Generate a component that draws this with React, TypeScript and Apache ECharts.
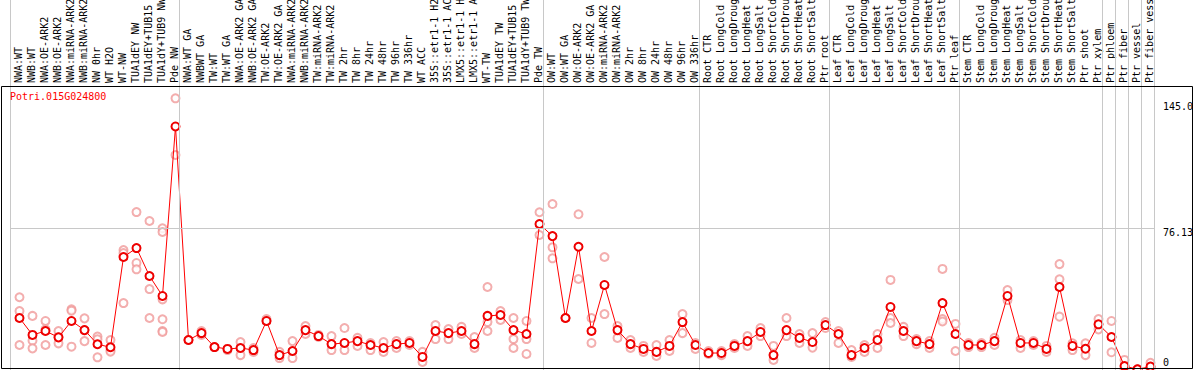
import React, { useEffect, useRef } from "react";
import * as echarts from "echarts";

const geneName = "Potri.015G024800";

const categories = [
  "NWA:WT", "NWB:WT", "NWA:OE-ARK2", "NWB:OE-ARK2", "NWA:miRNA-ARK2", "NWB:miRNA-ARK2",
  "NW 0hr", "WT H2O", "WT-NW", "TUA1dEY NW", "TUA1dEY+TUB15", "TUA1dY+TUB9 NW", "Pde NW",
  "NWA:WT GA", "NWBWT GA", "TW:WT", "TW:WT GA", "NWA:OE-ARK2 GA", "NWB:OE-ARK2 GA",
  "TW:OE-ARK2", "TW:OE-ARK2 GA", "NWA:miRNA-ARK2", "NWB:miRNA-ARK2", "TW:miRNA-ARK2",
  "TW:miRNA-ARK2", "TW 2hr", "TW 8hr", "TW 24hr", "TW 48hr", "TW 96hr", "TW 336hr",
  "WT ACC", "35S::etr1-1 H2", "35S::etr1-1 AC", "LMX5::etr1-1 H", "LMX5::etr1-1 A",
  "WT-TW", "TUA1dEY TW", "TUA1dEY+TUB15", "TUA1dY+TUB9 TW", "Pde TW",
  "OW:WT", "OW:WT GA", "OW:OE-ARK2", "OW:OE-ARK2 GA", "OW:miRNA-ARK2", "OW:miRNA-ARK2",
  "OW 2hr", "OW 8hr", "OW 24hr", "OW 48hr", "OW 96hr", "OW 336hr",
  "Root CTR", "Root LongCold", "Root LongDroug", "Root LongHeat", "Root LongSalt",
  "Root ShortCold", "Root ShortDrou", "Root ShortHeat", "Root ShortSalt", "Ptr root",
  "Leaf CTR", "Leaf LongCold", "Leaf LongDroug", "Leaf LongHeat", "Leaf LongSalt",
  "Leaf ShortCold", "Leaf ShortDrou", "Leaf ShortHeat", "Leaf ShortSalt", "Ptr leaf",
  "Stem CTR", "Stem LongCold", "Stem LongDroug", "Stem LongHeat", "Stem LongSalt",
  "Stem ShortCold", "Stem ShortDrou", "Stem ShortHeat", "Stem ShortSalt", "Ptr shoot",
  "Ptr xylem", "Ptr phloem", "Ptr fiber", "Ptr vessel", "Ptr fiber vess",
];

// number of columns in each separated group
const groupSizes = [13, 28, 12, 10, 10, 11, 1, 1, 1, 1];

const means = [
  27.9, 18.8, 20.9, 17.5, 26.3, 21.4, 13.8, 12.2, 60.6, 65.4, 50.4, 39.7, 130.6,
  16.1, 19.8, 12.3, 11.3, 11.8, 10.7, 26.3, 8.0, 10.2, 21.4, 18.2, 13.9, 14.5, 15.5,
  13.4, 11.8, 13.9, 14.5, 7.0, 20.9, 19.8, 20.9, 13.9, 29.0, 29.5, 21.4, 19.3, 78.3,
  71.8, 27.9, 66.1, 20.9, 45.6, 21.4, 13.9, 11.3, 9.7, 12.9, 25.7, 13.4,
  9.1, 9.1, 12.9, 15.5, 20.4, 8.0, 21.4, 17.2, 15.0, 24.1,
  19.3, 8.0, 11.8, 16.1, 33.8, 20.9, 15.5, 13.9, 35.9, 19.3,
  13.4, 13.4, 15.5, 39.7, 14.5, 14.5, 11.3, 44.5, 12.9, 11.4,
  24.5, 17.7, 2.1, 0.4, 1.8,
];

const replicates = [
  [39.0, 31.6, 13.4], [29.0, 15.7, 11.6], [26.3, 21.8, 13.4], [20.9, 17.5, 14.3],
  [32.5, 31.8, 12.5], [27.7, 21.4, 15.5], [17.9, 16.5, 6.8], [16.1, 10.7, 9.8],
  [64.3, 62.7, 35.9], [84.7, 57.4, 54.0], [79.9, 43.4, 27.9],
  [76.0, 74.0, 37.9, 27.2, 20.9, 20.4], [145.7, 115.3],
  [16.1, 16.1], [20.9, 18.8], [12.3, 12.3], [11.3, 10.7], [15.0, 8.0], [11.8, 9.7],
  [27.3, 26.3], [9.7, 6.4], [15.5, 6.4], [23.6, 19.3], [18.8, 17.7], [18.2, 10.7],
  [22.5, 10.7], [17.2, 12.9], [14.5, 10.7], [15.0, 9.7], [15.5, 11.8], [15.5, 13.4],
  [9.7, 4.3], [24.1, 16.6], [22.0, 16.6], [23.1, 19.3], [17.7, 11.8],
  [44.5, 25.7, 20.9], [31.6, 26.8], [27.9, 16.6, 11.8], [26.3, 16.6, 8.6], [84.6, 72.4],
  [89.0, 65.8, 59.9], [27.9, 27.9], [83.5, 48.8], [27.9, 14.5], [60.6, 30.0],
  [23.6, 17.2], [16.1, 11.8], [12.9, 9.7], [13.4, 7.5], [16.1, 10.2], [30.0, 19.8],
  [14.5, 11.3],
  [10.2, 8.6], [10.2, 8.0], [13.9, 11.8], [18.2, 12.9], [22.5, 18.2], [12.9, 5.4],
  [27.9, 18.2], [19.3, 14.5], [19.8, 12.0], [25.7, 22.5],
  [20.9, 14.5], [10.7, 7.0], [13.4, 9.7], [19.3, 11.8], [48.3, 27.9, 25.2],
  [23.1, 18.2], [16.6, 13.9], [15.5, 11.8], [54.2, 27.3, 26.0], [24.7, 10.2],
  [14.5, 12.3], [14.5, 12.3], [17.2, 13.4], [42.9, 37.5], [16.1, 11.8], [15.5, 13.4],
  [12.9, 9.7], [56.8, 48.6, 28.6], [14.3, 10.7], [14.3, 8.0],
  [27.3, 21.8], [26.3, 9.5], [5.4, 0.0], [0.4, 0.4], [3.9, 0.0],
];

const refLineValue = 76.13;
const yTickValues = [145.0, 76.13, 0];
const yTickTexts = ["145.0", "76.13", "0"];
const yMax = 152.3;

const MONO = "'DejaVu Sans Mono', monospace";

// layout (pixels)
const H = 370;
const PLOT_TOP = 86;

export default function App() {
  const ref = useRef<HTMLDivElement>(null);

  useEffect(() => {
    if (!ref.current) return;
    const chart = echarts.init(ref.current, null, { renderer: "svg" });

    const boundaries: number[] = [0];
    groupSizes.forEach((s) => boundaries.push(boundaries[boundaries.length - 1] + s));

    const repData: number[][] = [];
    replicates.forEach((arr, i) => arr.forEach((v) => repData.push([i, v])));

    // full-height grid shares the data scale (0 at bottom)
    const fullMax = (yMax * H) / (H - PLOT_TOP);

    chart.setOption({
      animation: false,
      backgroundColor: "#ffffff",
      title: {
        text: geneName,
        left: 10,
        top: 91,
        padding: 0,
        textStyle: { color: "#ff0000", fontSize: 10, fontFamily: MONO, fontWeight: "normal" },
      },
      grid: [
        { left: 10.5, top: 0, width: 1144, height: H },
        { left: 13, top: PLOT_TOP, width: 1144, height: H - PLOT_TOP },
        { left: 11.5, top: 0, width: 1144, height: 83 },
      ],
      xAxis: [
        { type: "value", gridIndex: 0, min: 0, max: categories.length, show: false },
        { type: "category", gridIndex: 1, data: categories, show: false },
        {
          type: "category",
          gridIndex: 2,
          data: categories,
          position: "bottom",
          axisLine: { show: false },
          axisTick: { show: false },
          splitLine: { show: false },
          axisLabel: {
            inside: true,
            rotate: 90,
            interval: 0,
            margin: 0,
            fontFamily: MONO,
            fontSize: 10,
            color: "#000000",
          },
        },
      ],
      yAxis: [
        { type: "value", gridIndex: 0, min: 0, max: fullMax, show: false },
        { type: "value", gridIndex: 1, min: 0, max: yMax, show: false },
        { type: "value", gridIndex: 2, min: 0, max: 1, show: false },
      ],
      series: [
        {
          type: "line",
          xAxisIndex: 0,
          yAxisIndex: 0,
          data: [],
          markLine: {
            silent: true,
            symbol: "none",
            label: { show: false },
            lineStyle: { color: "#c8c8c8", width: 1, type: "solid" },
            data: [...boundaries.map((b) => ({ xAxis: b })), { yAxis: refLineValue }],
          },
        },
        {
          type: "scatter",
          xAxisIndex: 1,
          yAxisIndex: 1,
          data: repData,
          symbol: "emptyCircle",
          symbolSize: 8,
          itemStyle: { color: "#f09a9a", borderWidth: 1.3 },
          z: 2,
        },
        {
          type: "line",
          xAxisIndex: 1,
          yAxisIndex: 1,
          data: means,
          symbol: "emptyCircle",
          showAllSymbol: true,
          symbolSize: 8,
          lineStyle: { color: "#ff0000", width: 1 },
          itemStyle: { color: "#ee0000", borderWidth: 1.5 },
          z: 3,
        },
      ],
    });

    const yOffsets = [7, 4, -8];
    const labels = yTickValues.map((v, k) => {
      const py = chart.convertToPixel({ yAxisIndex: 1 }, v) as number;
      return {
        type: "text",
        x: 1163,
        y: py + yOffsets[k],
        style: {
          text: yTickTexts[k],
          fill: "#000000",
          font: `10px ${MONO}`,
          verticalAlign: "middle",
          align: "left",
        },
        z: 10,
      };
    });

    chart.setOption({
      graphic: [
        {
          type: "rect",
          shape: { x: 1.5, y: PLOT_TOP + 0.5, width: 1191, height: 282 },
          style: { fill: "none", stroke: "#000000", lineWidth: 1 },
          z: 10,
        },
        ...labels,
      ],
    });

    return () => chart.dispose();
  }, []);

  return (
    <div
      ref={ref}
      style={{ position: "fixed", left: 0, top: 0, width: 1194, height: H, background: "#fff" }}
    />
  );
}
